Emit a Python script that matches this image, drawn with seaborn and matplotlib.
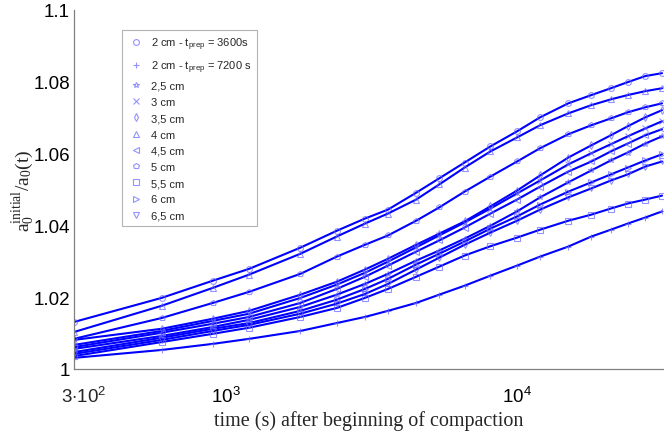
import pandas as pd
import seaborn as sns
import matplotlib.pyplot as plt
from matplotlib.ticker import FixedLocator, FixedFormatter, LogLocator, NullFormatter

# time after beginning of compaction (s)
times = [300, 600, 900, 1200, 1800, 2400, 3000, 3600, 4500, 5400, 6600,
         8100, 10000, 12000, 15000, 18000, 21000, 24000, 27600, 31500]

# a0_initial / a0(t)
h2_3600 = [1.0131, 1.0198, 1.0246, 1.0279, 1.0338, 1.0385, 1.0419, 1.0444, 1.0491, 1.0531,
           1.0575, 1.0620, 1.0662, 1.0701, 1.0740, 1.0763, 1.0782, 1.0799, 1.0816, 1.0824]
h2_7200 = [1.0031, 1.0053, 1.0070, 1.0084, 1.0106, 1.0128, 1.0145, 1.0162, 1.0184, 1.0207,
           1.0232, 1.0260, 1.0288, 1.0313, 1.0341, 1.0369, 1.0388, 1.0405, 1.0422, 1.0439]
h2_5 = [1.0056, 1.0092, 1.0117, 1.0137, 1.0173, 1.0207, 1.0237, 1.0265, 1.0302, 1.0330,
        1.0363, 1.0399, 1.0439, 1.0478, 1.0520, 1.0553, 1.0581, 1.0603, 1.0628, 1.0648]
h3 = [1.0067, 1.0106, 1.0134, 1.0154, 1.0198, 1.0235, 1.0268, 1.0299, 1.0339, 1.0372,
      1.0408, 1.0447, 1.0489, 1.0525, 1.0570, 1.0601, 1.0626, 1.0648, 1.0670, 1.0690]
h3_5 = [1.0081, 1.0112, 1.0140, 1.0162, 1.0207, 1.0243, 1.0277, 1.0307, 1.0346, 1.0377,
        1.0411, 1.0453, 1.0497, 1.0539, 1.0589, 1.0623, 1.0651, 1.0676, 1.0701, 1.0721]
h4 = [1.0103, 1.0176, 1.0226, 1.0263, 1.0321, 1.0369, 1.0405, 1.0433, 1.0472, 1.0514,
      1.0561, 1.0606, 1.0645, 1.0679, 1.0712, 1.0735, 1.0751, 1.0763, 1.0774, 1.0782]
h4_5 = [1.0061, 1.0101, 1.0126, 1.0145, 1.0184, 1.0223, 1.0257, 1.0288, 1.0327, 1.0358,
        1.0394, 1.0433, 1.0472, 1.0508, 1.0550, 1.0578, 1.0606, 1.0628, 1.0651, 1.0668]
h5 = [1.0084, 1.0142, 1.0184, 1.0215, 1.0265, 1.0313, 1.0346, 1.0372, 1.0413, 1.0450,
      1.0494, 1.0536, 1.0578, 1.0615, 1.0654, 1.0679, 1.0698, 1.0715, 1.0729, 1.0740]
h5_5 = [1.0036, 1.0075, 1.0098, 1.0115, 1.0145, 1.0170, 1.0198, 1.0223, 1.0257, 1.0285,
        1.0316, 1.0342, 1.0366, 1.0388, 1.0413, 1.0430, 1.0447, 1.0461, 1.0472, 1.0483]
h6 = [1.0047, 1.0087, 1.0112, 1.0128, 1.0162, 1.0193, 1.0223, 1.0251, 1.0291, 1.0321,
      1.0355, 1.0391, 1.0425, 1.0458, 1.0494, 1.0520, 1.0542, 1.0561, 1.0581, 1.0598]
h6_5 = [1.0042, 1.0081, 1.0106, 1.0123, 1.0154, 1.0182, 1.0209, 1.0237, 1.0277, 1.0310,
        1.0346, 1.0380, 1.0413, 1.0444, 1.0478, 1.0503, 1.0525, 1.0542, 1.0564, 1.0578]

labels = ['2 cm - $\\mathsf{t_{prep}}$ = 3600s', '2 cm - $\\mathsf{t_{prep}}$ = 7200 s',
          '2,5 cm', '3 cm', '3,5 cm', '4 cm', '4,5 cm', '5 cm', '5,5 cm', '6 cm', '6,5 cm']
markers = ['o', '+', '*', 'x', 'd', '^', '<', 'p', 's', '>', 'v']
series = [h2_3600, h2_7200, h2_5, h3, h3_5, h4, h4_5, h5, h5_5, h6, h6_5]

rows = []
for lab, vals in zip(labels, series):
    for t, v in zip(times, vals):
        rows.append({'time': t, 'ratio': v, 'sample': lab})
df = pd.DataFrame(rows)

sns.set_style("white")
plt.rcParams['font.family'] = ['Liberation Sans', 'DejaVu Sans']
plt.rcParams['mathtext.fontset'] = 'custom'
plt.rcParams['mathtext.rm'] = 'Liberation Serif'
plt.rcParams['mathtext.it'] = 'Liberation Serif:italic'
plt.rcParams['mathtext.sf'] = 'Liberation Sans'

fig = plt.figure(figsize=(6.64, 4.35), dpi=100)
ax = fig.add_axes([74 / 664, 65 / 435, 590 / 664, 359 / 435])

line_col = '#0000ff'
mark_col = (0.4, 0.4, 1.0, 0.7)
handles = []
for lab, m in zip(labels, markers):
    sub = df[df['sample'] == lab]
    sns.lineplot(data=sub, x='time', y='ratio', color=line_col, lw=1.5,
                 ax=ax, legend=False)
    h, = ax.plot(sub['time'], sub['ratio'], ls='none', marker=m, ms=4.2,
                 mfc='none', mec=mark_col, mew=0.8, label=lab)
    handles.append(h)

ax.set_xscale('log')
ax.set_xlim(300, 32000)
ax.set_ylim(1.0, 1.1)

# 3.10^2 label is drawn separately, a bit to the right of its tick
ax.xaxis.set_major_locator(FixedLocator([300, 1000, 10000]))
ax.xaxis.set_major_formatter(FixedFormatter(['', '$\\mathsf{10^3}$', '$\\mathsf{10^4}$']))
ax.xaxis.set_minor_locator(LogLocator(base=10, subs=range(2, 10)))
ax.xaxis.set_minor_formatter(NullFormatter())
ax.set_yticks([1.0, 1.02, 1.04, 1.06, 1.08, 1.1])
ax.set_yticklabels(['1', '1.02', '1.04', '1.06', '1.08', '1.1'])

for s in ['top', 'right']:
    ax.spines[s].set_visible(False)
for s in ['left', 'bottom']:
    ax.spines[s].set_color('#808080')
    ax.spines[s].set_linewidth(0.9)
ax.tick_params(axis='both', which='both', direction='in', colors='#808080',
               labelcolor='black', labelsize=13.5)
ax.tick_params(axis='both', which='major', length=5, width=0.8)
ax.tick_params(axis='x', which='minor', length=3, width=0.8)
ax.tick_params(axis='x', which='major', pad=12)
ax.tick_params(axis='y', which='major', pad=3)

ax.annotate('$\\mathsf{3{\\cdot}10^2}$', xy=(300, 0), xycoords=('data', 'axes fraction'),
            xytext=(10, -17), textcoords='offset pixels', ha='center', va='top',
            fontsize=13.5)

ax.set_xlabel('time (s) after beginning of compaction', family='Liberation Serif',
              fontsize=14.5, labelpad=3)
ax.set_ylabel('$\\mathrm{a_0^{initial}/a_0(t)}$', fontsize=14)
ax.yaxis.set_label_coords(-0.064, 0.5)

leg = ax.legend(handles=handles, labels=labels, loc='upper left',
                bbox_to_anchor=(0.081, 0.944), borderaxespad=0, fontsize=8,
                frameon=True, fancybox=False, edgecolor='#a0a0a0',
                handlelength=1.6, handletextpad=0.5, labelspacing=0.56,
                borderpad=0.5, numpoints=1)
leg.get_frame().set_linewidth(0.8)

fig.savefig('out.png', dpi=100)
